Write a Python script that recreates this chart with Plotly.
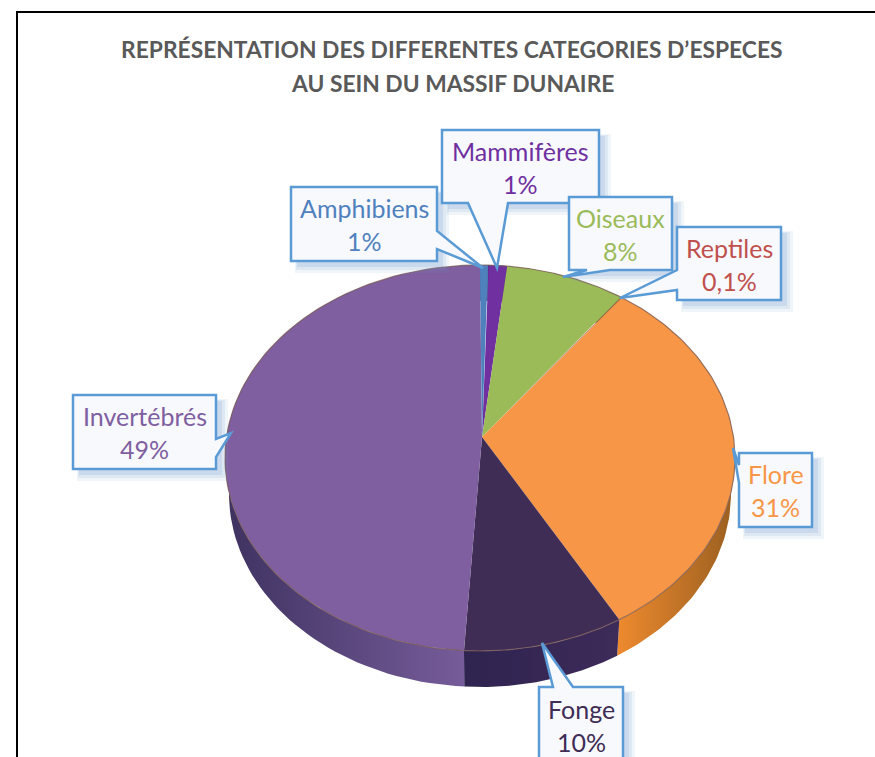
import numpy as np
import plotly.graph_objects as go

# ---- data ----
labels = ["Mammifères", "Oiseaux", "Reptiles", "Flore", "Fonge", "Invertébrés", "Amphibiens"]
values = [1.2, 7.6, 0.1, 31.4, 10.2, 49, 0.5]
value_labels = ["1%", "8%", "0,1%", "31%", "10%", "49%", "1%"]
colors = ["#7030A0", "#9BBB59", "#C0504D", "#F79646", "#3F2D56", "#7F5F9F", "#4F81BD"]
text_colors = ["#7030A0", "#9BBB59", "#C0504D", "#F79646", "#3F2D56", "#7F5F9F", "#4F81BD"]
wall_left = ["#5a2480", "#7d9847", "#9a403e", "#EE8A2E", "#2F2350", "#3E3260", "#3f6797"]
wall_right = ["#5a2480", "#7d9847", "#9a403e", "#9A5F20", "#3D2B5A", "#7A5F9E", "#3f6797"]
title_lines = ["REPRÉSENTATION DES DIFFERENTES CATEGORIES D’ESPECES", "AU SEIN DU MASSIF DUNAIRE"]

# ---- geometry (pixels of the page) ----
W, H = 875, 757
CX, CY, RX, RY = 480, 458, 255, 193
APEX = (482, 437)
DEPTH, RX_LOW = 36, 251
START_DEG = 1.8

# box x0, x1, y0, y1 and outline of the tail
callouts = {
    "Invertébrés": ((73, 216, 395, 469), [(216, 439), (231, 433), (216, 457)], "right"),
    "Amphibiens": ((291, 437, 187, 261), [(437, 231), (483, 268), (437, 249)], "right"),
    "Mammifères": ((442, 599, 130, 203), [(508, 203), (497, 268), (468, 203)], "bottom"),
    "Oiseaux": ((569, 672, 197, 270), [(610, 270), (563, 277), (587, 270)], "bottom"),
    "Reptiles": ((677, 781, 227, 300), [(677, 290), (620, 298), (677, 270)], "left"),
    "Flore": ((739, 812, 453, 527), [(739, 483), (733, 448), (739, 465)], "left"),
    "Fonge": ((539, 623, 687, 762), [(539, 687), (553, 687), (542, 643), (573, 687)], "top"),
}
layer_order = ["Invertébrés", "Amphibiens", "Mammifères", "Oiseaux", "Reptiles", "Flore", "Fonge"]

fractions = np.array(values, dtype=float) / np.sum(values)
edges = np.radians(START_DEG + 360 * np.concatenate([[0], np.cumsum(fractions)]))


def arc(a0, a1, cy, rx, n=90):
    t = np.linspace(a0, a1, n)
    return CX + rx * np.sin(t), cy - RY * np.cos(t)


fig = go.Figure()

# side walls first; the top faces hide whatever is behind
for i, name in enumerate(labels):
    xt, yt = arc(edges[i], edges[i + 1], CY, RX)
    xb, yb = arc(edges[i], edges[i + 1], CY + DEPTH, RX_LOW)
    fig.add_trace(go.Scatter(
        x=np.concatenate([xt, xb[::-1]]), y=np.concatenate([yt, yb[::-1]]),
        mode="lines", fill="toself", line=dict(width=0),
        fillgradient=dict(type="horizontal",
                          colorscale=[[0, wall_left[i]], [1, wall_right[i]]]),
        hoverinfo="skip", showlegend=False))

for i, name in enumerate(labels):
    xt, yt = arc(edges[i], edges[i + 1], CY, RX)
    fig.add_trace(go.Scatter(
        x=np.concatenate([[APEX[0]], xt, [APEX[0]]]),
        y=np.concatenate([[APEX[1]], yt, [APEX[1]]]),
        mode="lines", fill="toself", fillcolor=colors[i],
        line=dict(width=0), name=name, hoverinfo="name", showlegend=False))
    # soft rim
    fig.add_trace(go.Scatter(x=xt, y=yt, mode="lines", hoverinfo="skip", showlegend=False,
                             line=dict(width=1.2, color="rgba(125,95,90,0.75)")))

shapes = [dict(type="path", layer="below",
               path="M 17 757 L 17 12 L 875 12",
               line=dict(color="#000000", width=2), fillcolor="rgba(0,0,0,0)")]
annotations = []

for line, y in zip(title_lines, (49, 83)):
    annotations.append(dict(x=452, y=y, xref="x", yref="y", text=f"<b>{line}</b>", showarrow=False,
                            font=dict(family="Lato", size=22.8, color="#595959"),
                            xanchor="center", yanchor="middle"))


def outline(box, tail, side):
    x0, x1, y0, y1 = box
    if side == "right":
        pts = [(x0, y0), (x1, y0)] + tail + [(x1, y1), (x0, y1)]
    elif side == "bottom":
        pts = [(x0, y0), (x1, y0), (x1, y1)] + tail + [(x0, y1)]
    elif side == "left":
        pts = [(x0, y0), (x1, y0), (x1, y1), (x0, y1)] + tail
    else:
        pts = [(x0, y0)] + tail[1:] + [(x1, y0), (x1, y1), (x0, y1)]
    return "M " + " L ".join(f"{x} {y}" for x, y in pts) + " Z"


for name in layer_order:
    i = labels.index(name)
    box, tail, side = callouts[name]
    x0, x1, y0, y1 = box
    for off, grow, alpha in ((8, 4, 0.10), (7, 2, 0.14), (6, 0, 0.18)):
        shapes.append(dict(type="rect", layer="above", x0=x0 + off - grow, x1=x1 + off + grow,
                           y0=y0 + off - grow, y1=y1 + off + grow,
                           fillcolor=f"rgba(110,155,205,{alpha})", line=dict(width=0)))
    shapes.append(dict(type="path", layer="above", path=outline(box, tail, side),
                       fillcolor="#F7F9FD", line=dict(color="#5B9BD5", width=2.5)))
    cy = (y0 + y1) / 2
    for txt, y in ((name, cy - 16), (value_labels[i], cy + 17)):
        annotations.append(dict(x=(x0 + x1) / 2, y=y, xref="x", yref="y", text=txt, showarrow=False,
                                font=dict(family="Lato", size=25, color=text_colors[i]),
                                xanchor="center", yanchor="middle"))

fig.update_layout(
    width=W, height=H, autosize=False, margin=dict(l=0, r=0, t=0, b=0),
    paper_bgcolor="#FFFFFF", plot_bgcolor="#FFFFFF", showlegend=False,
    shapes=shapes, annotations=annotations,
    xaxis=dict(range=[0, W], visible=False, fixedrange=True),
    yaxis=dict(range=[H, 0], visible=False, fixedrange=True),
)
fig.write_html("out.html", config=dict(displayModeBar=False),
               post_script="document.body.style.margin='0';document.body.style.overflow='hidden';")
